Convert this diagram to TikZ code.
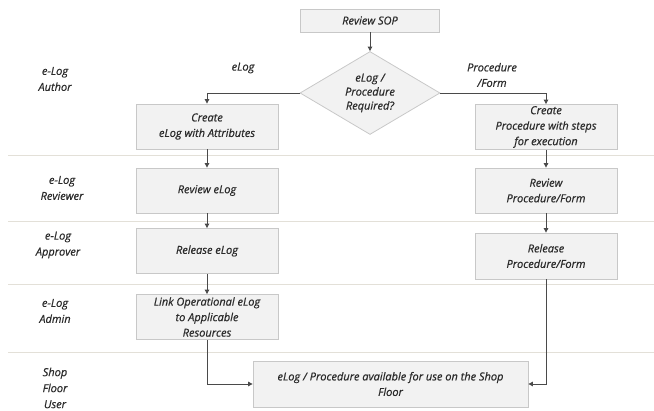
\documentclass[tikz,border=0pt]{standalone}
\usepackage{fontspec}
\setmainfont{Open Sans}[ItalicFeatures={FakeBold=0.6}]
\usetikzlibrary{arrows.meta,shapes.geometric}
\definecolor{boxfill}{HTML}{F2F2F2}
\definecolor{boxline}{HTML}{C8C8C8}
\definecolor{laneline}{HTML}{E3E0D8}
\definecolor{flow}{HTML}{4A4A4A}
\definecolor{ink}{HTML}{2B2B2B}
\begin{document}
\begin{tikzpicture}[x=1pt,y=-1pt,
  every node/.style={font=\itshape\fontsize{11}{15.5}\selectfont, text=ink},
  stepbox/.style={draw=boxline, fill=boxfill, line width=0.8pt, minimum width=142pt,
    minimum height=45pt, align=center, inner sep=1pt},
  decision/.style={diamond, aspect=1.69, draw=boxline, fill=boxfill, line width=0.8pt,
    minimum width=140pt, minimum height=83pt, inner sep=0pt, align=center,
    font=\itshape\fontsize{11}{14}\selectfont},
  lanelabel/.style={align=center, font=\itshape\fontsize{11}{16}\selectfont},
  lane/.style={draw=laneline, line width=1pt},
  flowarrow/.style={draw=flow, line width=0.9pt, -{Triangle[length=4.5pt,width=4.5pt]}}
]
\useasboundingbox (0,0) rectangle (654,411);

% swim-lane separators
\draw[lane] (8,156) -- (654,156);
\draw[lane] (8,222) -- (654,222);
\draw[lane] (8,285) -- (654,285);
\draw[lane] (8,353) -- (654,353);

% lane titles
\node[lanelabel] (author)   at (55,79)  {e-Log\\Author};
\node[lanelabel] (reviewer) at (62,188) {e-Log\\Reviewer};
\node[lanelabel] (approver) at (58,245) {e-Log\\Approver};
\node[lanelabel] (admin)    at (55,311) {e-Log\\Admin};
\node[lanelabel] (shop)     at (55,388) {Shop\\Floor\\User};

% process steps
\node[stepbox, minimum width=139pt, minimum height=23pt] (sop) at (370,20.5) {Review SOP};
\node[decision] (dec) at (370,93) {eLog /\\Procedure\\Required?};

\node[stepbox] (celog)  at (207,126.5) {Create\\eLog with Attributes};
\node[stepbox] (cproc)  at (546,127)   {Create\\Procedure with steps\\for execution};
\node[stepbox] (relog)  at (207,190.5) {Review eLog};
\node[stepbox] (rproc)  at (546,190.5) {Review\\Procedure/Form};
\node[stepbox] (rlelog) at (207,251)   {Release eLog};
\node[stepbox, minimum height=46pt] (rlproc) at (546,256) {Release\\Procedure/Form};
\node[stepbox] (link)   at (207,317)   {Link Operational eLog\\to Applicable\\Resources};
\node[stepbox, minimum width=275pt, minimum height=46pt] (final) at (390.5,384)
  {eLog / Procedure available for use on the Shop\\Floor};

% branch labels
\node (lbelog)  at (243,68) {eLog};
\node[align=center] (lbproc) at (492,75) {Procedure\\/Form};

% flow
\draw[flowarrow] (sop) -- (dec);
\draw[flowarrow] (dec.west) -| (celog.north);
\draw[flowarrow] (dec.east) -| (cproc.north);
\draw[flowarrow] (celog) -- (relog);
\draw[flowarrow] (relog) -- (rlelog);
\draw[flowarrow] (rlelog) -- (link);
\draw[flowarrow] (cproc) -- (rproc);
\draw[flowarrow] (rproc) -- (rlproc);
\draw[flowarrow] (link.south) |- (final.west);
\draw[flowarrow] (rlproc.south) |- (final.east);
\end{tikzpicture}
\end{document}
